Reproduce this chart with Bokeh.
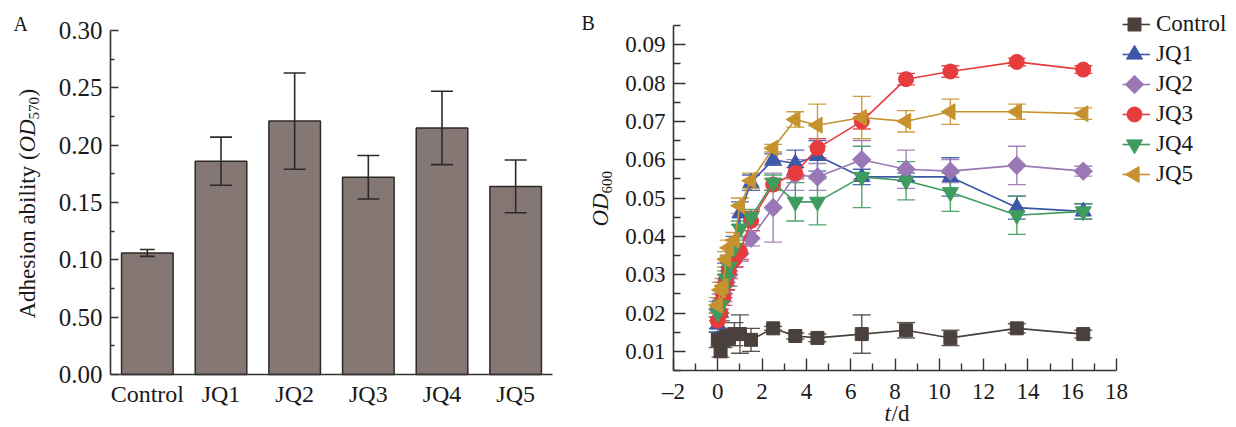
import math
from bokeh.plotting import figure
from bokeh.models import (ColumnDataSource, Range1d, Whisker, TeeHead, FixedTicker, LinearAxis,
                          Label, Legend, LegendItem, PrintfTickFormatter)
from bokeh.layouts import row
from bokeh.embed import file_html
from bokeh.resources import INLINE

FONT = "Liberation Serif"
AX = "#333333"
TXT = "#1a1a1a"

# ---------------- Panel A data ----------------
strains = ["Control", "JQ1", "JQ2", "JQ3", "JQ4", "JQ5"]
adhesion = [0.106, 0.186, 0.221, 0.172, 0.215, 0.164]
adhesion_err = [0.003, 0.021, 0.042, 0.019, 0.032, 0.023]
a_ticks = [0.0, 0.05, 0.10, 0.15, 0.20, 0.25, 0.30]
a_tick_labels = ["0.00", "0.50", "0.10", "0.15", "0.20", "0.25", "0.30"]
a_minor = [0.025, 0.075, 0.125, 0.175, 0.225, 0.275]

# ---------------- Panel B data ----------------
t_days = [0, 0.125, 0.25, 0.375, 0.5, 0.75, 1.0, 1.5, 2.5, 3.5, 4.5, 6.5, 8.5, 10.5, 13.5, 16.5]
od_control = [0.013, 0.010, 0.013, 0.014, 0.0135, 0.0145, 0.0145, 0.013, 0.0160, 0.0140, 0.0135, 0.0145, 0.0155, 0.0135, 0.0160, 0.0145]
err_control = [0.002, 0.0015, 0.002, 0.002, 0.002, 0.003, 0.005, 0.003, 0.0005, 0.0008, 0.0010, 0.005, 0.002, 0.002, 0.0012, 0.001]
od_jq1 = [0.017, 0.020, 0.026, 0.030, 0.033, 0.037, 0.046, 0.054, 0.060, 0.059, 0.061, 0.0555, 0.0555, 0.0555, 0.0475, 0.0465]
err_jq1 = [0.002, 0.002, 0.002, 0.003, 0.002, 0.003, 0.003, 0.002, 0.0015, 0.0035, 0.004, 0.002, 0.001, 0.005, 0.003, 0.002]
od_jq2 = [0.021, 0.023, 0.025, 0.028, 0.030, 0.034, 0.0355, 0.0395, 0.0475, 0.056, 0.0555, 0.060, 0.0575, 0.057, 0.0585, 0.057]
err_jq2 = [0.002, 0.002, 0.002, 0.002, 0.003, 0.002, 0.002, 0.002, 0.009, 0.004, 0.0035, 0.005, 0.005, 0.003, 0.005, 0.0013]
od_jq3 = [0.018, 0.020, 0.024, 0.028, 0.031, 0.034, 0.036, 0.044, 0.0535, 0.0565, 0.063, 0.070, 0.081, 0.083, 0.0855, 0.0835]
err_jq3 = [0.002, 0.002, 0.002, 0.002, 0.002, 0.002, 0.002, 0.0025, 0.0015, 0.0015, 0.0025, 0.002, 0.0015, 0.0015, 0.001, 0.001]
od_jq4 = [0.020, 0.022, 0.026, 0.029, 0.032, 0.037, 0.042, 0.045, 0.054, 0.049, 0.049, 0.0555, 0.0545, 0.0515, 0.0455, 0.0465]
err_jq4 = [0.002, 0.002, 0.002, 0.002, 0.002, 0.002, 0.002, 0.002, 0.002, 0.005, 0.006, 0.008, 0.005, 0.005, 0.005, 0.002]
od_jq5 = [0.022, 0.026, 0.027, 0.034, 0.037, 0.039, 0.048, 0.0545, 0.063, 0.0705, 0.069, 0.071, 0.070, 0.0725, 0.0725, 0.072]
err_jq5 = [0.002, 0.002, 0.002, 0.002, 0.002, 0.002, 0.002, 0.002, 0.001, 0.002, 0.0055, 0.0055, 0.0028, 0.0033, 0.002, 0.0015]
series_names = ["Control", "JQ1", "JQ2", "JQ3", "JQ4", "JQ5"]
series_vals = [od_control, od_jq1, od_jq2, od_jq3, od_jq4, od_jq5]
series_errs = [err_control, err_jq1, err_jq2, err_jq3, err_jq4, err_jq5]
series_colors = ["#4a413d", "#3c58a6", "#9a78b6", "#e63c3e", "#3f9c5e", "#c6922f"]
series_markers = ["square", "triangle", "square", "circle", "inverted_triangle", "triangle"]
series_angles = [0, 0, math.pi / 4, 0, 0, math.pi / 2]
series_sizes = [13, 16, 13, 15, 16, 16]
b_xticks = [-2, 0, 2, 4, 6, 8, 10, 12, 14, 16, 18]
b_xtick_labels = ["\u20132", "0", "2", "4", "6", "8", "10", "12", "14", "16", "18"]
b_yticks = [0.01, 0.02, 0.03, 0.04, 0.05, 0.06, 0.07, 0.08, 0.09]


def span(p_lo, p_hi, v_lo, v_hi, c_lo, c_hi):
    """Range whose canvas pixels c_lo..c_hi put value v_lo at pixel p_lo and v_hi at p_hi."""
    k = (v_hi - v_lo) / (p_hi - p_lo)
    return v_lo + (c_lo - p_lo) * k, v_lo + (c_hi - p_lo) * k


def style_axis(ax, size):
    ax.axis_line_color = AX
    ax.axis_line_width = 1.6
    ax.major_tick_line_color = AX
    ax.minor_tick_line_color = AX
    ax.major_tick_line_width = 1.4
    ax.minor_tick_line_width = 1.4
    ax.major_label_text_font = FONT
    ax.major_label_text_font_size = size
    ax.major_label_text_color = TXT
    ax.major_tick_out = 0
    ax.minor_tick_out = 0


def lab(p, H, x, y, text, size="23px", style="normal", angle=0.0):
    p.add_layout(Label(x=x, y=H - y, x_units="screen", y_units="screen", angle=angle,
                       text=text, text_font=FONT, text_font_style=style, text_font_size=size,
                       text_align="left", text_baseline="middle", text_color=TXT))


H = 427
# ---------------- Figure A ----------------
WA = 570
xa0, xa1 = span(110, 552, -0.5, 5.5, 0, WA)
ya0, ya1 = span(374, 30, 0.0, 0.30, H, 0)
pa = figure(x_range=Range1d(xa0, xa1), y_range=Range1d(ya0, ya1), width=WA, height=H,
            min_border=0, x_axis_location=None, y_axis_location=None,
            output_backend="svg", toolbar_location=None, tools="")
pa.outline_line_color = None
for g in pa.grid:
    g.visible = False

idx = list(range(len(strains)))
srcA = ColumnDataSource(dict(x=idx, top=adhesion,
                             upper=[v + e for v, e in zip(adhesion, adhesion_err)],
                             lower=[v - e for v, e in zip(adhesion, adhesion_err)]))
pa.vbar(x="x", top="top", width=0.7, source=srcA, fill_color="#857774",
        line_color="#2e2a29", line_width=1.5)
# error bars: narrow caps for the control, wide caps for the strains
for rows, cap in ((slice(0, 1), 15), (slice(1, None), 22)):
    s = ColumnDataSource({k: v[rows] for k, v in srcA.data.items()})
    pa.add_layout(Whisker(source=s, base="x", upper="upper", lower="lower",
                          line_color="#2e2a29", line_width=1.6, level="glyph",
                          upper_head=TeeHead(size=cap, line_color="#2e2a29", line_width=1.6),
                          lower_head=TeeHead(size=cap, line_color="#2e2a29", line_width=1.6)))

ay = LinearAxis(fixed_location=-0.5, bounds=(0.0, 0.30),
                ticker=FixedTicker(ticks=a_ticks, minor_ticks=a_minor))
style_axis(ay, "25px")
ay.major_label_overrides = {t: l for t, l in zip(a_ticks, a_tick_labels)}
ay.major_tick_in = 8
ay.minor_tick_in = 4
ay.major_label_standoff = 8
pa.add_layout(ay, "left")
ax_ = LinearAxis(fixed_location=0.0, bounds=(-0.5, 5.5), ticker=FixedTicker(ticks=idx, minor_ticks=[]))
style_axis(ax_, "24px")
ax_.major_label_overrides = {i: s for i, s in zip(idx, strains)}
ax_.major_tick_in = 0
ax_.major_label_standoff = 6
pa.add_layout(ax_, "below")

# y-axis label A in pieces (rotated)
lab(pa, H, 27, 318, "Adhesion ability (", angle=math.pi / 2)
lab(pa, H, 27, 152, "OD", style="italic", angle=math.pi / 2)
lab(pa, H, 33, 119, "570", size="15px", angle=math.pi / 2)
lab(pa, H, 27, 96, ")", angle=math.pi / 2)
lab(pa, H, 13, 23, "A", size="20px")

# ---------------- Figure B ----------------
WB = 666
OX = 570  # page x where figure B starts
xb0, xb1 = span(673 - OX, 1116 - OX, -2, 18, 0, WB)
yb0, yb1 = span(370, 25, 0.005, 0.095, H, 0)
pb = figure(x_range=Range1d(xb0, xb1), y_range=Range1d(yb0, yb1), width=WB, height=H,
            min_border=0, x_axis_location=None, y_axis_location=None,
            output_backend="svg", toolbar_location=None, tools="")
pb.outline_line_color = None
for g in pb.grid:
    g.visible = False

bx = LinearAxis(fixed_location=0.005, bounds=(-2, 18),
                ticker=FixedTicker(ticks=b_xticks, minor_ticks=list(range(-1, 18, 2))))
style_axis(bx, "23px")
bx.major_label_overrides = {t: l for t, l in zip(b_xticks, b_xtick_labels)}
by = LinearAxis(fixed_location=-2, bounds=(0.005, 0.095),
                ticker=FixedTicker(ticks=b_yticks, minor_ticks=[0.005 + 0.01 * i for i in range(10)]))
style_axis(by, "23px")
by.formatter = PrintfTickFormatter(format="%.2f")
for a in (bx, by):
    a.major_tick_in = 12
    a.minor_tick_in = 7
    a.major_label_standoff = 8
pb.add_layout(bx, "below")
pb.add_layout(by, "left")

# legend layout (page pixels)
LEG_X0 = 1122 - OX      # left of key line
LEG_TOP = 9             # top of first row
LEG_ROW = 30            # row height
LEG_KEY_W = 28


def to_data(px, py):
    return (xb0 + px * (xb1 - xb0) / WB, yb1 - py * (yb1 - yb0) / H)


items = []
for i, (name, vals, errs, col, mk, ang, sz) in enumerate(zip(series_names, series_vals, series_errs,
                                                             series_colors, series_markers,
                                                             series_angles, series_sizes)):
    src = ColumnDataSource(dict(t=t_days, v=vals,
                                upper=[a + b for a, b in zip(vals, errs)],
                                lower=[a - b for a, b in zip(vals, errs)]))
    pb.add_layout(Whisker(source=src, base="t", upper="upper", lower="lower",
                          line_color=col, line_width=1.4, line_alpha=0.9,
                          upper_head=TeeHead(size=18, line_color=col, line_width=1.4, line_alpha=0.9),
                          lower_head=TeeHead(size=18, line_color=col, line_width=1.4, line_alpha=0.9)))
    lr = pb.line("t", "v", source=src, line_color=col, line_width=1.6)
    pb.scatter("t", "v", source=src, marker=mk, size=sz, angle=ang,
               fill_color=col, line_color=col)
    items.append(LegendItem(label=name, renderers=[lr]))
    # legend key marker (drawn with same marker/angle as the series)
    kx, ky = to_data(LEG_X0 + 12, LEG_TOP + LEG_ROW * i + LEG_ROW / 2)
    pb.scatter([kx], [ky], marker=mk, size=sz, angle=ang, fill_color=col, line_color=col)

legend = Legend(items=items, location=(LEG_X0, H - LEG_TOP - LEG_ROW * len(items)),
                glyph_width=LEG_KEY_W, glyph_height=LEG_ROW,
                label_height=LEG_ROW, spacing=0, padding=0, margin=0, label_standoff=6,
                label_text_font=FONT, label_text_font_size="23px", label_text_color=TXT,
                border_line_alpha=0, background_fill_alpha=0, level="underlay")
pb.add_layout(legend)

lab(pb, H, 600 - OX, 226, "OD", style="italic", angle=math.pi / 2)
lab(pb, H, 606 - OX, 193, "600", size="15px", angle=math.pi / 2)
lab(pb, H, 884 - OX, 413, "t", style="italic")
lab(pb, H, 891 - OX, 413, "/d")
lab(pb, H, 581 - OX, 22, "B", size="20px")

layout = row(pa, pb)
open("out.html", "w").write(file_html(layout, INLINE))
